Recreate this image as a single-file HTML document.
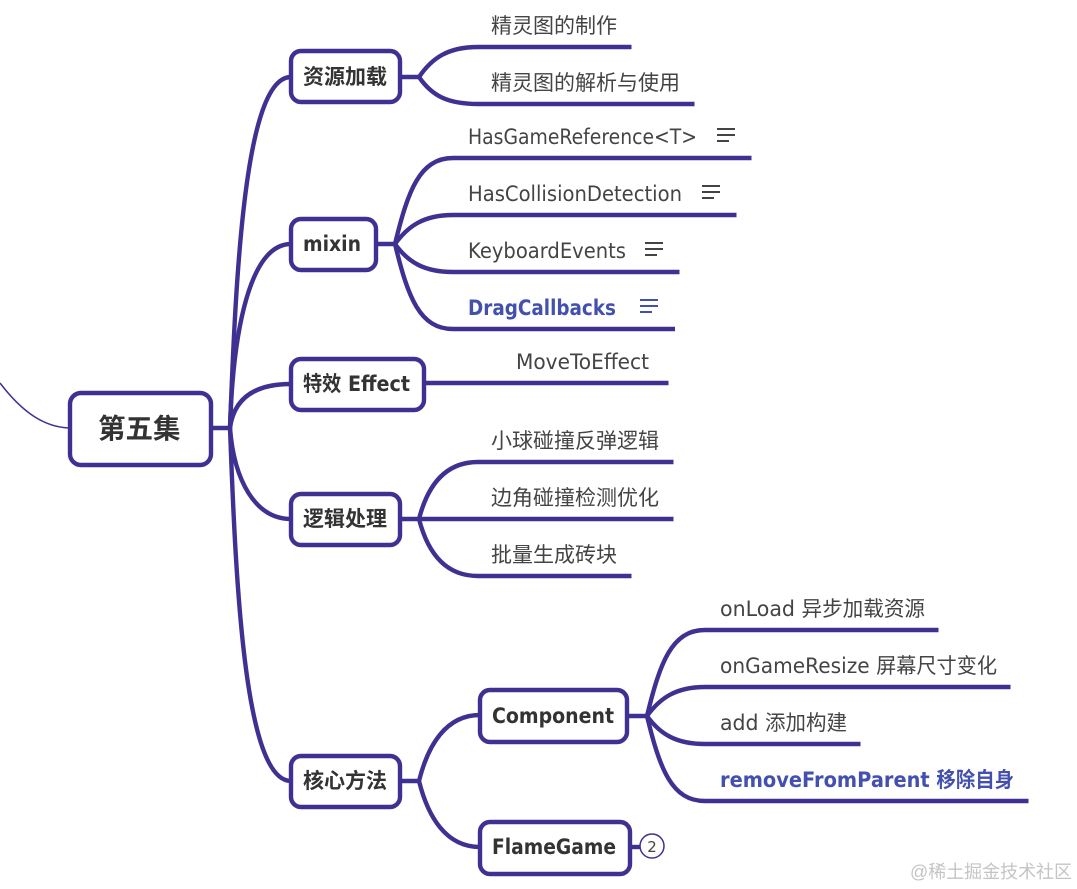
<!DOCTYPE html>
<html><head><meta charset="utf-8"><style>
html,body{margin:0;padding:0;background:#fff;width:1077px;height:889px;overflow:hidden}
svg{display:block}
text{font-family:"DejaVu Sans","Noto Sans CJK SC",sans-serif;fill:#404040}
.c{font-family:"Liberation Sans","Noto Sans CJK SC",sans-serif;font-size:21px;fill:#444}
.l{font-size:21px;fill:#444}
.b{font-family:"DejaVu Sans","Noto Sans CJK SC",sans-serif;font-weight:700;font-size:21px;fill:#333}
.h{fill:#4350ad}
path,line{fill:none;stroke:#3f3192;stroke-width:4.4}
rect{fill:#fff;stroke:#3f3192;stroke-width:4.4}
</style></head><body>
<svg width="1077" height="889" viewBox="0 0 1077 889" xmlns="http://www.w3.org/2000/svg">
<path d="M0 383C22 412 44 427 69 428" style="stroke-width:1.5"/>
<path d="M212 428H230"/>
<path d="M230 428C236 270 245 77 291 77"/>
<path d="M230 428C233 330 250 244 291 244"/>
<path d="M230 428C234 398 255 384 291 384"/>
<path d="M230 428C234 480 255 519 291 519"/>
<path d="M230 428C236 590 245 781 291 781"/>

<path d="M401 77H419C432 58 448 47 478 47H631.5"/>
<path d="M419 77C432 96 448 104 478 104H694.5"/>

<path d="M377 244H395C408 190 420 158 453 158H751.5"/>
<path d="M395 244C408 226 424 215 453 215H736.5"/>
<path d="M395 244C408 262 424 272 453 272H679.5"/>
<path d="M395 244C408 298 420 329 453 329H675"/>

<path d="M425 383H668.5"/>

<path d="M401 519H673.5"/>
<path d="M419 519C428 484 446 462 478 462H673.5"/>
<path d="M419 519C428 554 446 576 478 576H631.5"/>

<path d="M401 781H419C428 745 446 715 480 715"/>
<path d="M419 781C428 817 446 847 480 847"/>

<path d="M628 716H647C660 662 672 630 705 630H938.5"/>
<path d="M647 716C660 698 676 687 705 687H1010.5"/>
<path d="M647 716C660 734 676 744 705 744H860.5"/>
<path d="M647 716C660 770 672 801 705 801H1028.5"/>
<path d="M632 847H641"/>

<rect x="70" y="393" width="141" height="72" rx="11"/>
<rect x="291" y="51" width="109" height="51" rx="10"/>
<rect x="291" y="219" width="85" height="51" rx="10"/>
<rect x="291" y="359" width="133" height="51" rx="10"/>
<rect x="291" y="494" width="109" height="51" rx="10"/>
<rect x="291" y="756" width="109" height="51" rx="10"/>
<rect x="480" y="690" width="147" height="52" rx="10"/>
<rect x="480" y="822" width="150" height="52" rx="10"/>

<text x="98" y="438" class="b" style="font-size:27.5px">第五集</text>
<text x="303" y="84" class="b">资源加载</text>
<text x="303" y="251" class="b" textLength="58" lengthAdjust="spacingAndGlyphs">mixin</text>
<text x="303" y="391" class="b" textLength="107" lengthAdjust="spacingAndGlyphs">特效 Effect</text>
<text x="303" y="526" class="b">逻辑处理</text>
<text x="303" y="788" class="b">核心方法</text>
<text x="492" y="723" class="b" textLength="122" lengthAdjust="spacingAndGlyphs">Component</text>
<text x="492" y="854" class="b" textLength="124" lengthAdjust="spacingAndGlyphs">FlameGame</text>

<text x="491" y="33" class="c">精灵图的制作</text>
<text x="491" y="90" class="c">精灵图的解析与使用</text>
<text x="468" y="144" class="l" textLength="229" lengthAdjust="spacingAndGlyphs">HasGameReference&lt;T&gt;</text>
<text x="468" y="201" class="l" textLength="214" lengthAdjust="spacingAndGlyphs">HasCollisionDetection</text>
<text x="468" y="258" class="l" textLength="158" lengthAdjust="spacingAndGlyphs">KeyboardEvents</text>
<text x="468" y="315" class="b h" textLength="148" lengthAdjust="spacingAndGlyphs">DragCallbacks</text>
<text x="516" y="369" class="l" textLength="133" lengthAdjust="spacingAndGlyphs">MoveToEffect</text>
<text x="491" y="448" class="c">小球碰撞反弹逻辑</text>
<text x="491" y="505" class="c">边角碰撞检测优化</text>
<text x="491" y="562" class="c">批量生成砖块</text>
<text x="720" y="616" class="l" textLength="205" lengthAdjust="spacingAndGlyphs">onLoad 异步加载资源</text>
<text x="720" y="673" class="l" textLength="277" lengthAdjust="spacingAndGlyphs">onGameResize 屏幕尺寸变化</text>
<text x="720" y="730" class="l" textLength="127" lengthAdjust="spacingAndGlyphs">add 添加构建</text>
<text x="720" y="787" class="b h" textLength="294" lengthAdjust="spacingAndGlyphs">removeFromParent 移除自身</text>

<path style="stroke:#444;stroke-width:2" d="M717 129H735M717 135H735M717 141H729"/>
<path style="stroke:#444;stroke-width:2" d="M702 186H720M702 192H720M702 198H714"/>
<path style="stroke:#444;stroke-width:2" d="M645 243H663M645 249H663M645 255H657"/>
<path style="stroke:#4350ad;stroke-width:2" d="M640 300H658M640 306H658M640 312H652"/>

<circle cx="652" cy="846" r="12" fill="#fff" stroke="#3f3192" stroke-width="1.5"/>
<text x="652" y="852" text-anchor="middle" style="font-family:'DejaVu Sans',sans-serif;font-size:15px;fill:#444">2</text>

<text x="910" y="878" style="font-family:'Liberation Sans','Noto Sans CJK SC',sans-serif;font-size:18px;fill:#c4c4c4" textLength="162" lengthAdjust="spacingAndGlyphs">@稀土掘金技术社区</text>
</svg>
</body></html>
